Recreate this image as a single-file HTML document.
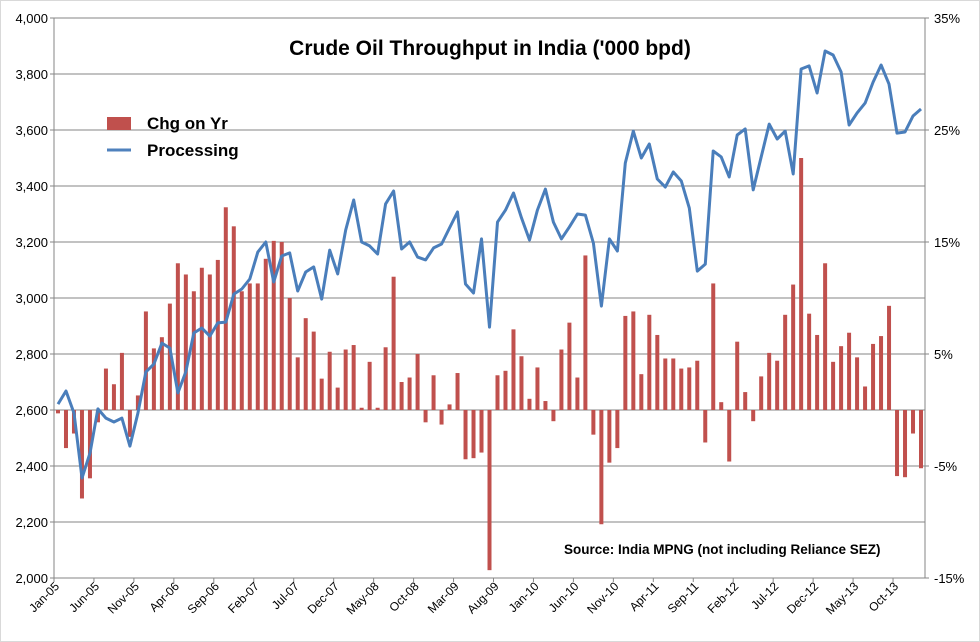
<!DOCTYPE html>
<html><head><meta charset="utf-8"><style>
html,body{margin:0;padding:0;background:#fff}
svg{display:block;font-family:"Liberation Sans",Arial,sans-serif}
</style></head><body>
<svg id="chart" width="980" height="642" viewBox="0 0 980 642">
<rect x="0.5" y="0.5" width="979" height="641" fill="#fff" stroke="#d9d9d9"/>
<g id="grid"></g><g id="bars"></g><g id="line"></g><g id="axes"></g>
<text x="490" y="55" text-anchor="middle" font-size="21" font-weight="bold" fill="#000">Crude Oil Throughput in India ('000 bpd)</text>
<g>
<rect x="107" y="117" width="24" height="13" fill="#C0504D"/>
<text x="147" y="129" font-size="17" font-weight="bold">Chg on Yr</text>
<line x1="107" y1="150" x2="131" y2="150" stroke="#4F81BD" stroke-width="3"/>
<text x="147" y="156" font-size="17" font-weight="bold">Processing</text>
</g>
<text x="564" y="554" font-size="13.5" font-weight="bold">Source: India MPNG (not including Reliance SEZ)</text>
</svg>
<script>
const processing = [2621,2668,2589,2357,2446,2604,2571,2557,2571,2471,2589,2736,2764,2839,2821,2661,2736,2875,2893,2864,2911,2914,3014,3032,3068,3164,3200,3057,3150,3161,3025,3093,3111,2996,3171,3086,3243,3350,3200,3186,3157,3336,3382,3175,3200,3146,3136,3179,3193,3250,3307,3050,3018,3211,2896,3271,3314,3375,3286,3207,3314,3389,3271,3211,3254,3300,3296,3196,2971,3211,3168,3482,3596,3500,3550,3425,3396,3450,3418,3321,3096,3121,3525,3504,3432,3582,3604,3386,3504,3621,3568,3596,3443,3818,3829,3732,3882,3868,3807,3618,3661,3696,3771,3832,3764,3589,3593,3650,3675];
const chgOnYr = [-0.3,-3.4,-2.1,-7.9,-6.1,-1.1,3.7,2.3,5.1,-2.4,1.3,8.8,5.5,6.5,9.5,13.1,12.1,10.6,12.7,12.1,13.4,18.1,16.4,10.6,11.3,11.3,13.5,15.1,15,10,4.7,8.2,7,2.8,5.2,2,5.4,5.8,0.2,4.3,0.2,5.6,11.9,2.5,2.9,5,-1.1,3.1,-1.3,0.5,3.3,-4.4,-4.3,-3.8,-14.3,3.1,3.5,7.2,4.8,1,3.8,0.8,-1,5.4,7.8,2.9,13.8,-2.2,-10.2,-4.7,-3.4,8.4,8.8,3.2,8.5,6.7,4.6,4.6,3.7,3.8,4.4,-2.9,11.3,0.7,-4.6,6.1,1.6,-1,3,5.1,4.4,8.5,11.2,22.5,8.6,6.7,13.1,4.3,5.7,6.9,4.7,2.1,5.9,6.6,9.3,-5.9,-6,-2.1,-5.2];
const leftTicks = ["2,000","2,200","2,400","2,600","2,800","3,000","3,200","3,400","3,600","3,800","4,000"];
const rightTicks = ["-15%","-5%","5%","15%","25%","35%"];
const monthNames = ["Jan","Feb","Mar","Apr","May","Jun","Jul","Aug","Sep","Oct","Nov","Dec"];

const NS="http://www.w3.org/2000/svg";
const X0=54,X1=925,Y0=18,Y1=578,N=processing.length;
const cw=(X1-X0)/N;
const xc=i=>X0+cw*(i+0.5);
const yL=v=>Y1-(v-2000)/2000*(Y1-Y0);
const yR=p=>Y1-(p+15)/50*(Y1-Y0);
function mk(tag,attrs,parent){const e=document.createElementNS(NS,tag);for(const k in attrs)e.setAttribute(k,attrs[k]);parent.appendChild(e);return e;}
const grid=document.getElementById('grid'),bars=document.getElementById('bars'),line=document.getElementById('line'),axes=document.getElementById('axes');

leftTicks.forEach((t,k)=>{
  const v=2000+k*200,y=yL(v);
  const g=mk('line',{x1:X0,x2:X1,y1:y,y2:y,stroke:'#868686','stroke-width':1},grid);
  
  
  const tx=mk('text',{x:X0-6,y:y+5,'text-anchor':'end','font-size':13,fill:'#000'},axes);
  tx.textContent=t;
  
  
});
rightTicks.forEach((t,k)=>{
  const p=-15+k*10,y=yR(p);
  const tx=mk('text',{x:X1+9,y:y+5,'font-size':13,fill:'#000'},axes);
  tx.textContent=t;
  
  
});
chgOnYr.forEach((p,i)=>{
  const y0=yR(0),y=yR(p);
  const r=mk('rect',{x:xc(i)-2,y:Math.min(y,y0),width:4,height:Math.max(0.8,Math.abs(y-y0)),fill:'#C0504D'},bars);
  
  
});
const pts=processing.map((v,i)=>xc(i).toFixed(1)+','+yL(v).toFixed(1)).join(' ');
const pl=mk('polyline',{points:pts,fill:'none',stroke:'#4A7EBB','stroke-width':3,'stroke-linejoin':'round'},line);



const la=mk('line',{x1:X0,x2:X0,y1:Y0,y2:Y1,stroke:'#868686'},axes);


const ra=mk('line',{x1:X1,x2:X1,y1:Y0,y2:Y1,stroke:'#868686'},axes);


for(let k=0;k<=10;k++){
  const y=yL(2000+k*200);
  const t=mk('line',{x1:X0-4,x2:X0,y1:y,y2:y,stroke:'#868686'},axes);
  
  
}
for(let k=0;k<=5;k++){
  const y=yR(-15+k*10);
  const t=mk('line',{x1:X1,x2:X1+4,y1:y,y2:y,stroke:'#868686'},axes);
  
  
}
for(let i=0;i<=N;i+=5){
  const x=X0+cw*i;
  const t=mk('line',{x1:x,x2:x,y1:Y1,y2:Y1+4,stroke:'#868686'},axes);
  
  
}
for(let i=0;i<N;i+=5){
  const m=i%12,yr=5+Math.floor(i/12);
  const lbl=monthNames[m]+'-'+String(yr).padStart(2,'0');
  const x=xc(i)+2,y=Y1+9;
  const tx=mk('text',{x:x,y:y,'text-anchor':'end','font-size':12,fill:'#000',transform:'rotate(-45 '+x+' '+y+')'},axes);
  tx.textContent=lbl;
  
  
}
</script>
</body></html>
